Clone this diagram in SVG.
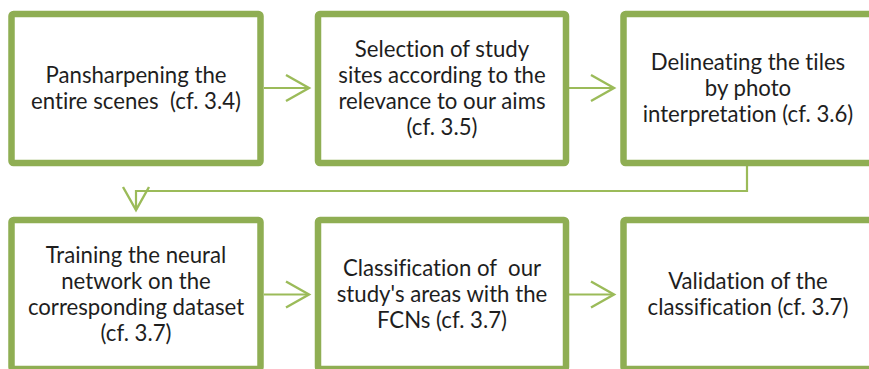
<svg xmlns="http://www.w3.org/2000/svg" width="869" height="369" viewBox="0 0 869 369">
<style>
.box{fill:#ffffff;stroke:#8fae53;stroke-width:6.5}
.lbl{font-family:Lato,"Liberation Sans",sans-serif;font-size:22.2px;fill:#1e1e1e;text-anchor:middle;white-space:pre;font-variant-ligatures:none}
.con{fill:none;stroke:#9bbb59;stroke-width:2.2;marker-end:url(#arr)}
</style>
<defs>
<marker id="arr" markerUnits="userSpaceOnUse" markerWidth="30" markerHeight="30" refX="0" refY="0" orient="auto" overflow="visible" viewBox="-30 -15 30 30">
<path d="M-23,-13 L0,0 L-23,13" fill="none" stroke="#9bbb59" stroke-width="2.4"/>
</marker>
</defs>
<rect width="869" height="369" fill="#ffffff"/>
<g id="connectors">
<path class="con" d="M264,88 H309"/>
<path class="con" d="M569,88 H614"/>
<path class="con" d="M747,166 V191 H136 V210"/>
<path class="con" d="M264,294.5 H309"/>
<path class="con" d="M569,294.5 H614"/>
</g>
<g id="n1">
<rect class="box" x="11.5" y="14" width="249" height="149" rx="2"/>
<text class="lbl"><tspan x="136" y="82.5">Pansharpening the</tspan><tspan x="136" y="108.5">entire scenes  (cf. 3.4)</tspan></text>
</g>
<g id="n2">
<rect class="box" x="318" y="14" width="248" height="149" rx="2"/>
<text class="lbl"><tspan x="442" y="56.5">Selection of study</tspan><tspan x="442" y="82.5">sites according to the</tspan><tspan x="442" y="108.5">relevance to our aims</tspan><tspan x="442" y="134.5">(cf. 3.5)</tspan></text>
</g>
<g id="n3">
<rect class="box" x="623.5" y="14" width="249" height="149" rx="2"/>
<text class="lbl"><tspan x="748" y="69.5">Delineating the tiles</tspan><tspan x="748" y="95.5">by photo</tspan><tspan x="748" y="121.5">interpretation (cf. 3.6)</tspan></text>
</g>
<g id="n4">
<rect class="box" x="11.5" y="220" width="249" height="149" rx="2"/>
<text class="lbl"><tspan x="136" y="262.5">Training the neural</tspan><tspan x="136" y="288.5">network on the</tspan><tspan x="136" y="314.5">corresponding dataset</tspan><tspan x="136" y="340.5">(cf. 3.7)</tspan></text>
</g>
<g id="n5">
<rect class="box" x="318" y="220" width="248" height="149" rx="2"/>
<text class="lbl"><tspan x="442" y="275.5">Classification of  our</tspan><tspan x="442" y="301.5">study's areas with the</tspan><tspan x="442" y="327.5">FCNs (cf. 3.7)</tspan></text>
</g>
<g id="n6">
<rect class="box" x="623.5" y="220" width="249" height="149" rx="2"/>
<text class="lbl"><tspan x="748" y="288.5">Validation of the</tspan><tspan x="748" y="314.5">classification (cf. 3.7)</tspan></text>
</g>
</svg>
